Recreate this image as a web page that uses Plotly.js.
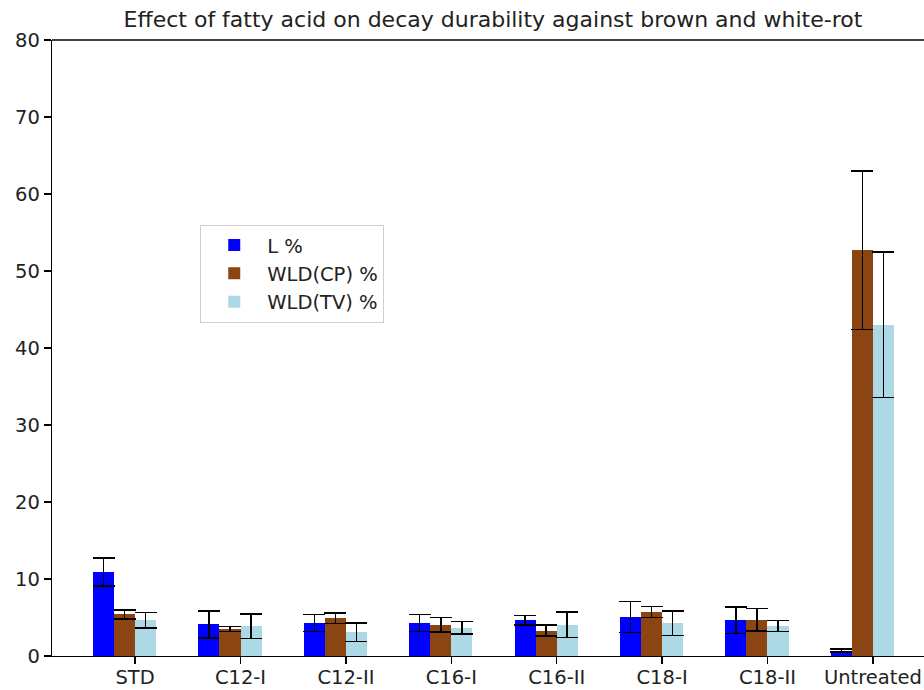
<!DOCTYPE html>
<html>
<head>
<meta charset="utf-8">
<script src="https://cdn.plot.ly/plotly-3.0.1.min.js"></script>
<style>html,body{margin:0;padding:0;background:#fff;}</style>
</head>
<body>
<div id="chart" style="width:924px;height:690px;"></div>
<script>
const categories = ["STD", "C12-I", "C12-II", "C16-I", "C16-II", "C18-I", "C18-II", "Untreated"];
const lValues   = [10.9, 4.1, 4.3, 4.3, 4.65, 5.05, 4.65, 0.7];
const lErrors   = [1.8, 1.75, 1.1, 1.1, 0.6, 2.0, 1.7, 0.2];
const cpValues  = [5.4, 3.5, 4.9, 4.05, 3.3, 5.7, 4.7, 52.7];
const cpErrors  = [0.6, 0.3, 0.7, 0.95, 0.7, 0.7, 1.45, 10.3];
const tvValues  = [4.65, 3.85, 3.1, 3.65, 4.05, 4.25, 3.9, 43.0];
const tvErrors  = [1.0, 1.6, 1.2, 0.8, 1.65, 1.6, 0.7, 9.45];
const seriesNames = ["L %", "WLD(CP) %", "WLD(TV) %"];
const colors = ["#0000ff", "#8b4513", "#add8e6"];

const barW = 0.2;
const idx = categories.map((_, i) => i);
const series = [[lValues, lErrors], [cpValues, cpErrors], [tvValues, tvErrors]];
const traces = series.map((s, k) => ({
  type: "bar",
  name: seriesNames[k],
  x: idx.map(i => i + k * barW),
  y: s[0],
  width: barW,
  marker: {color: colors[k], line: {width: 0}},
  error_y: {type: "data", array: s[1], visible: true, color: "#000", thickness: 1.5, width: 11}
}));

const font = {family: "DejaVu Sans, sans-serif", color: "#222"};
const layout = {
  width: 924, height: 690,
  margin: {l: 52, r: 0, t: 40, b: 34},
  paper_bgcolor: "#fff", plot_bgcolor: "#fff",
  barmode: "overlay",
  bargap: 0,
  showlegend: true,
  font: Object.assign({size: 19.5}, font),
  title: {text: "Effect of fatty acid on decay durability against brown and white-rot",
          font: Object.assign({size: 22}, font), x: 0.5335, xanchor: "center", y: 0.972, yanchor: "middle"},
  xaxis: {
    range: [-0.4886, 7.785],
    tickvals: idx.map(i => i + 1.5 * barW),
    ticktext: categories,
    ticks: "outside", ticklen: 7, tickwidth: 1.3, tickcolor: "#000",
    ticklabelstandoff: -4,
    showline: true, linecolor: "#000", linewidth: 1.3,
    showgrid: false, zeroline: false,
    tickfont: Object.assign({size: 19.5}, font)
  },
  yaxis: {
    range: [0, 80], dtick: 10, tick0: 0,
    ticks: "outside", ticklen: 7, tickwidth: 1.3, tickcolor: "#000",
    showline: true, linecolor: "#000", linewidth: 1.3,
    showgrid: false, zeroline: false,
    tickfont: Object.assign({size: 19.5}, font)
  },
  shapes: [{type: "line", xref: "paper", yref: "paper", x0: 0, x1: 1, y0: 1, y1: 1,
            line: {color: "#000", width: 1.3}}],
  legend: {
    x: 0.17, y: 0.70, xanchor: "left", yanchor: "top",
    bgcolor: "#fff", bordercolor: "#d0d0d0", borderwidth: 1,
    font: Object.assign({size: 19.5}, font),
    itemwidth: 56
  }
};

Plotly.newPlot("chart", traces, layout, {displayModeBar: false, staticPlot: true});
</script>
</body>
</html>
